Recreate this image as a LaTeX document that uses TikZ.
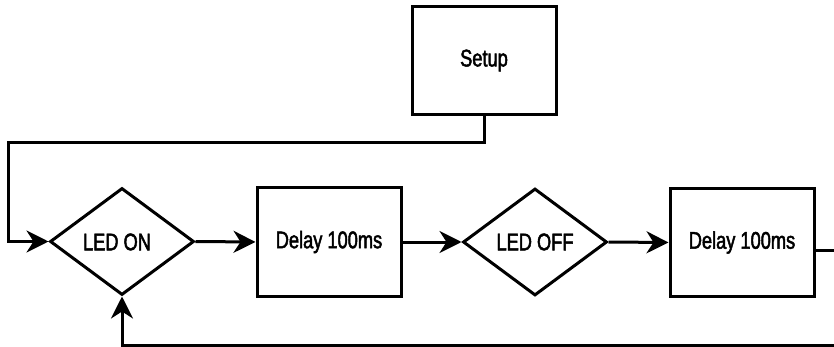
\documentclass[tikz,border=0pt]{standalone}
\usepackage{fontspec}
\setmainfont[FakeStretch=0.76,FakeBold=2]{Liberation Sans}
\usepackage{tikz}
\usetikzlibrary{shapes.geometric,arrows.meta,positioning}

\begin{document}
\begin{tikzpicture}[x=1pt, y=-1pt, font=\fontsize{24}{28}\selectfont,
  box/.style={rectangle,draw=black,line width=3pt,minimum width=144pt,minimum height=108pt,inner sep=0pt},
  dec/.style={diamond,draw=black,line width=3pt,minimum width=144pt,minimum height=107pt,inner sep=0pt},
  arr/.style={draw=black,line width=3pt,-{Stealth[length=22pt,width=22pt,inset=7pt]}}]
\useasboundingbox (0,0) rectangle (834,347);
\clip (0,0) rectangle (834,347);
\node[box] (setup) at (484,60.5) {Setup};
\node[dec] (ledon) at (122,241.5) {};
\node at (117,242) {LED ON};
\node[box] (dly1) at (329,242) {Delay 100ms};
\node[dec] (ledoff) at (535,242) {LED OFF};
\node[box] (dly2) at (742,242.5) {Delay 100ms};
\coordinate (lft) at (8,143);
\coordinate (rgt) at (842,345);
\draw[arr] (setup.south) |- (lft) |- (ledon.west);
\draw[arr] (ledon.east) -- (dly1.west);
\draw[arr] (dly1.east) -- (ledoff.west);
\draw[arr] (ledoff.east) -- (dly2.west);
\draw[arr] ([yshift=-7.5pt]dly2.east) -| (rgt) -| (ledon.south);
\end{tikzpicture}
\end{document}
